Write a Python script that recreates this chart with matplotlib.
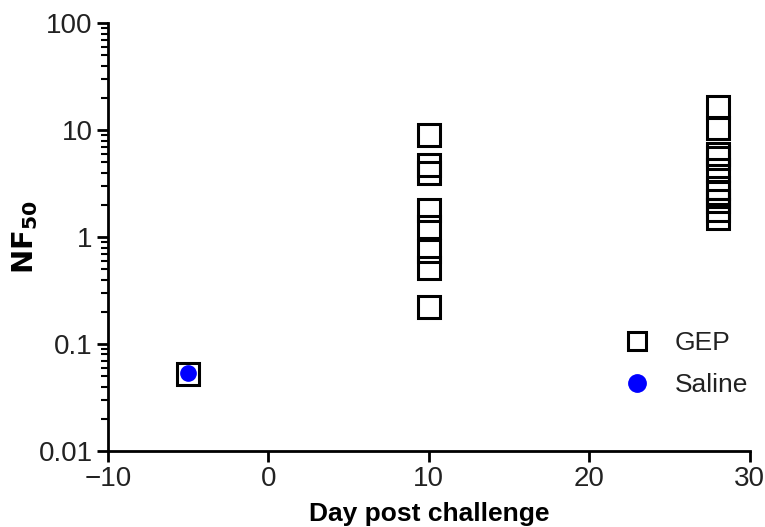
import matplotlib.pyplot as plt
from matplotlib.lines import Line2D

plt.rcParams['font.family'] = ['Liberation Sans', 'DejaVu Sans']

# GEP titers per day
gep_day = [-5,
           10, 10, 10, 10, 10, 10, 10, 10,
           28, 28, 28, 28, 28, 28, 28, 28, 28, 28]
gep_nf50 = [0.053,
            9.1, 4.7, 4.0, 1.8, 1.25, 0.74, 0.52, 0.22,
            16.5, 10.5, 6.0, 5.5, 4.2, 2.9, 2.6, 2.2, 1.8, 1.52]

saline_day = [-5]
saline_nf50 = [0.054]

fig = plt.figure(figsize=(7.65, 5.27), dpi=100)
ax = fig.add_axes([0.141, 0.144, 0.839, 0.812])

ax.plot(gep_day, gep_nf50, linestyle='none', marker='s', markersize=16.5,
        markerfacecolor='none', markeredgecolor='black', markeredgewidth=2.2,
        label='GEP')
ax.plot(saline_day, saline_nf50, linestyle='none', marker='o', markersize=11,
        markerfacecolor='#0000ff', markeredgecolor='#0000ff', label='Saline')

ax.set_yscale('log')
ax.set_ylim(0.01, 100)
ax.set_xlim(-10, 30)
ax.set_xticks([-10, 0, 10, 20, 30])
ax.set_xticklabels(['\u221210', '0', '10', '20', '30'])
ax.set_yticks([0.01, 0.1, 1, 10, 100])
ax.set_yticklabels(['0.01', '0.1', '1', '10', '100'])

for s in ['top', 'right']:
    ax.spines[s].set_visible(False)
for s in ['left', 'bottom']:
    ax.spines[s].set_linewidth(2)

ax.tick_params(axis='both', which='major', direction='out', length=8, width=2,
               labelsize=20, colors='black', labelcolor='#222222', pad=3)
ax.tick_params(axis='y', which='minor', direction='out', length=5, width=1.5)

ax.set_xlabel('Day post challenge', fontsize=19, fontweight='bold', labelpad=7)
fig.text(0.033, 0.55, r'$\mathbf{NF}_{\mathbf{50}}$', fontsize=21, rotation=90,
         ha='center', va='center')

handles = [Line2D([], [], linestyle='none', marker='s', markersize=13,
                  markerfacecolor='none', markeredgecolor='black', markeredgewidth=2.2),
           Line2D([], [], linestyle='none', marker='o', markersize=12.5,
                  markerfacecolor='#0000ff', markeredgecolor='#0000ff')]
ax.legend(handles, ['GEP', 'Saline'], loc='lower right', bbox_to_anchor=(1.035, 0.07),
          frameon=False, fontsize=19, handletextpad=0.45, labelspacing=0.7,
          labelcolor='#222222')

fig.savefig('out.png', dpi=100)
